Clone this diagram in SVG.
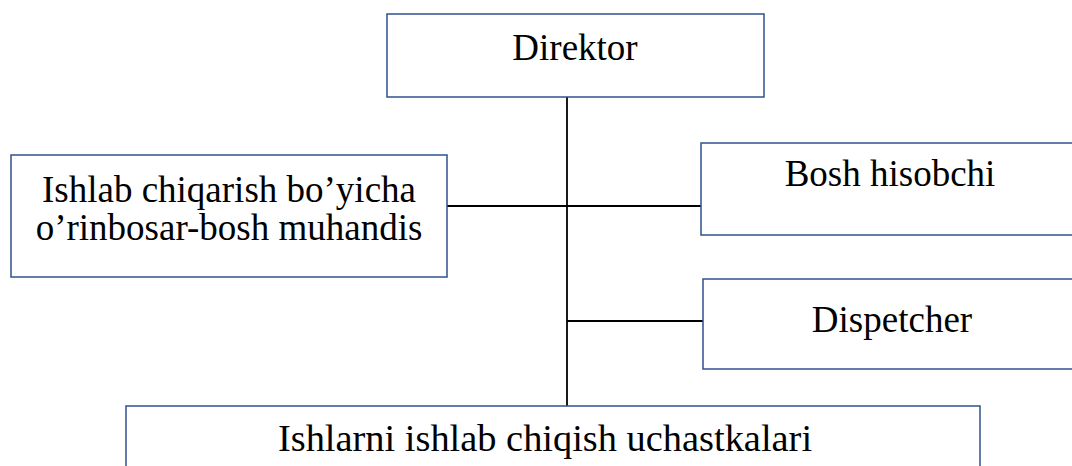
<svg xmlns="http://www.w3.org/2000/svg" width="1072" height="466" viewBox="0 0 1072 466">
<style>
.box{fill:#fff;stroke:#2F528F;stroke-width:1.5}
.t{font-family:"Liberation Serif","Times New Roman",serif;font-size:37px;fill:#000;text-anchor:middle}
.c{stroke:#000;stroke-width:1.8;fill:none}
</style>
<rect width="1072" height="466" fill="#fff"/>
<g id="connectors">
<line class="c" x1="567" y1="97" x2="567" y2="406"/>
<line class="c" x1="447" y1="206" x2="701" y2="206"/>
<line class="c" x1="567" y1="321" x2="703" y2="321"/>
</g>
<g id="direktor">
<rect class="box" x="387" y="14" width="377" height="83"/>
<text class="t" x="575" y="60">Direktor</text>
</g>
<g id="bosh-muhandis">
<rect class="box" x="11" y="155" width="436" height="122"/>
<text class="t" x="229" y="202">Ishlab chiqarish bo’yicha</text>
<text class="t" x="229" y="240">o’rinbosar-bosh muhandis</text>
</g>
<g id="bosh-hisobchi">
<rect class="box" x="701" y="143" width="400" height="92"/>
<text class="t" x="890" y="186">Bosh hisobchi</text>
</g>
<g id="dispetcher">
<rect class="box" x="703" y="279" width="400" height="90"/>
<text class="t" x="892" y="332">Dispetcher</text>
</g>
<g id="uchastkalar">
<rect class="box" x="126" y="406" width="854" height="80"/>
<text class="t" x="545" y="451" style="font-size:38.4px">Ishlarni ishlab chiqish uchastkalari</text>
</g>
</svg>
